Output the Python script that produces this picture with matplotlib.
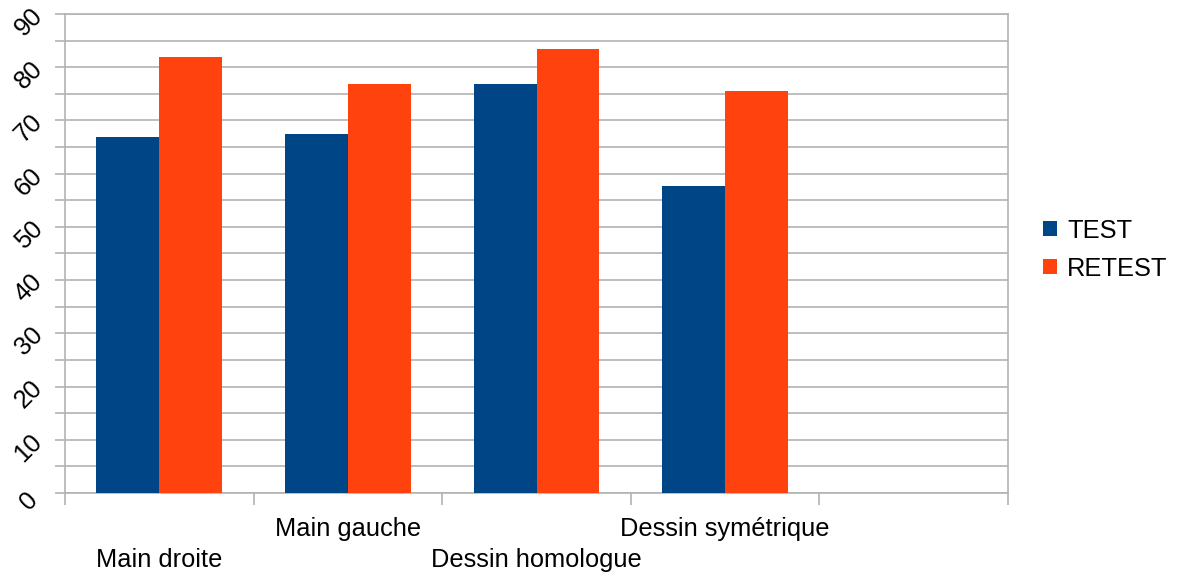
import matplotlib
matplotlib.use("Agg")
import matplotlib.pyplot as plt
import matplotlib.transforms as mtransforms
import numpy as np

categories = ["Main droite", "Main gauche", "Dessin homologue", "Dessin symétrique"]
test_values = [66.9, 67.5, 76.9, 57.6]
retest_values = [81.9, 76.9, 83.4, 75.5]
series_names = ["TEST", "RETEST"]
y_ticks = list(range(0, 91, 10))

plt.rcParams["font.family"] = ["Liberation Sans", "DejaVu Sans"]
FS = 18.3
GRID = "#b3b3b3"

fig = plt.figure(figsize=(11.78, 5.73), dpi=100)
ax = fig.add_axes([65 / 1178, 1 - 493 / 573, (1008 - 65) / 1178, (493 - 14) / 573])

n_slots = len(categories) + 1
x = np.arange(len(categories))
w = 1 / 3
ax.bar(x - w / 2, test_values, width=w, color="#004586", label=series_names[0], zorder=3)
ax.bar(x + w / 2, retest_values, width=w, color="#ff420e", label=series_names[1], zorder=3)

ax.set_xlim(-0.5, n_slots - 0.5)
ax.set_ylim(0, 90)

# y axis: gridlines every 5, labels every 10
ax.set_yticks(y_ticks)
ax.set_yticks(np.arange(5, 90, 10), minor=True)
ax.set_yticklabels([str(v) for v in y_ticks], rotation=45, fontsize=FS,
                   ha="center", va="center", rotation_mode="anchor")
ax.tick_params(axis="y", which="both", length=7.2, color=GRID, width=1.2, pad=19)
ax.grid(axis="y", which="both", color=GRID, linewidth=1.2, zorder=0)
shift = mtransforms.ScaledTranslation(0, -8 / 100, fig.dpi_scale_trans)
for lbl in ax.get_yticklabels():
    lbl.set_transform(lbl.get_transform() + shift)

# x axis: tick marks at category boundaries, staggered labels at centres
ax.set_xticks(np.arange(-0.5, n_slots, 1.0), minor=True)
ax.tick_params(axis="x", which="minor", length=8.6, color=GRID, width=1.2)
ax.set_xticks(x)
ax.set_xticklabels(categories, fontsize=FS)
ax.tick_params(axis="x", which="major", length=0, pad=17)
drop = mtransforms.ScaledTranslation(0, -31 / 100, fig.dpi_scale_trans)
for i, lbl in enumerate(ax.get_xticklabels()):
    if i % 2 == 0:
        lbl.set_transform(lbl.get_transform() + drop)

for s in ax.spines.values():
    s.set_color(GRID)
    s.set_linewidth(1.2)

ax.legend(loc="center left", bbox_to_anchor=(1.013, 0.508), frameon=False,
          fontsize=FS, handlelength=0.55, handleheight=0.55, handletextpad=0.4,
          labelspacing=0.55)

fig.savefig("out.png", dpi=100)
